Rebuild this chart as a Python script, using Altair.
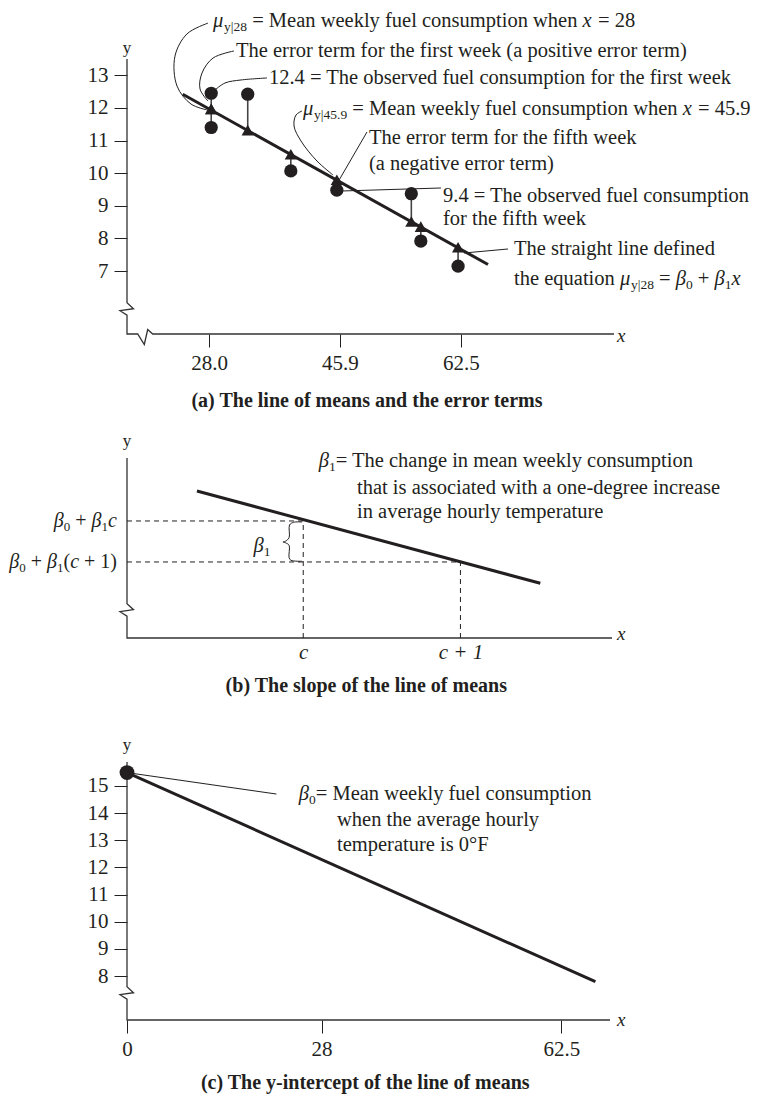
import altair as alt
import pandas as pd

FONT = "Liberation Serif"
INK = "#231f20"
AXC = "#333333"
BASE = 20.5
SUB = 13.5

# ---------------- Panel (a): line of means and error terms ----------------
a_x = [28.3, 28.3, 33.3, 39.2, 45.5, 55.7, 57.0, 62.1]
a_obs = [12.45, 11.40, 12.42, 10.07, 9.48, 9.37, 7.92, 7.15]
a_mean = [11.97, 11.97, 11.32, 10.58, 9.80, 8.52, 8.36, 7.73]
a_line_x = [24.4, 66.2]
a_line_y = [12.42, 7.20]
a_xticks = [28.0, 45.9, 62.5]
a_yticks = [7, 8, 9, 10, 11, 12, 13]
a_xdom = [16.77, 83.45]
a_ydom = [5.07, 13.5]
a_W, a_H = 487, 275

# leader lines (id -> x list, y list)
a_leaders = {
    "mu28": ([27.86, 24.99, 23.34, 23.62, 25.53, 27.72], [14.60, 14.27, 13.59, 12.67, 12.12, 11.94]),
    "err1": ([31.42, 28.55, 27.04, 26.77, 27.86], [13.746, 13.53, 13.07, 12.58, 12.21]),
    "obs1": ([35.94, 32.38, 30.19, 28.82], [12.918, 12.857, 12.765, 12.55]),
    "mu459": ([40.73, 39.91, 39.64, 40.59, 42.78, 44.98], [11.906, 11.784, 11.446, 10.987, 10.373, 9.944]),
    "err5": ([49.63, 45.5], [11.263, 9.668]),
    "obs5": ([46.21, 59.76], [9.454, 9.546]),
    "line": ([62.91, 68.94], [7.553, 7.676]),
}

# ---------------- Panel (b): slope ----------------
b_line_x = [0.324, 2.508]
b_line_y = [2.73, 0.48]
b_c = [1.0, 2.0]          # c, c + 1
b_level = [2.0, 1.0]      # b0 + b1 c, b0 + b1 (c + 1)
b_vtop = [2.03, 1.0]
b_brace_x = [0.992, 0.939, 0.913, 0.910, 0.886, 0.871, 0.886, 0.910, 0.910, 0.922, 0.992]
b_brace_y = [1.975, 1.968, 1.902, 1.592, 1.505, 1.487, 1.470, 1.407, 1.105, 1.041, 1.017]
b_xdom = [-0.121, 2.964]
b_ydom = [-0.854, 3.536]
b_W, b_H = 485, 180

# ---------------- Panel (c): intercept ----------------
c_line_x = [0.0, 67.4]
c_line_y = [15.49, 7.79]
c_icpt = [15.49]
c_xticks = [0, 28, 62.5]
c_yticks = [8, 9, 10, 11, 12, 13, 14, 15]
c_xdom = [0.0, 69.5]
c_ydom = [6.38, 15.88]
c_W, c_H = 483, 258

# ---------------- text helpers ----------------
WID = {' ': 250, '(': 333, ')': 333, '+': 564, '.': 250, '=': 564, '|': 200, '°': 400, '-': 333,
       'F': 556, 'M': 889, 'T': 611,
       'a': 444, 'b': 500, 'c': 444, 'd': 500, 'e': 444, 'f': 333, 'g': 500, 'h': 500, 'i': 278,
       'k': 500, 'l': 278, 'm': 778, 'n': 500, 'o': 500, 'p': 500, 'q': 500, 'r': 333, 's': 389,
       't': 278, 'u': 500, 'v': 500, 'w': 722, 'x': 500, 'y': 500, 'β': 500, 'μ': 540}


def tw(s, fs):
    return sum(WID.get(ch, 500) for ch in s) * fs / 1000.0


def segs(parts, x0, y0, ppx, align="left", size=BASE, sub=SUB):
    total = sum(tw(t, sub if st == "s" else size) for t, st in parts)
    start = x0 if align == "left" else x0 - total / ppx
    rows, cur = [], 0.0
    for t, st in parts:
        fs = sub if st == "s" else size
        body = t.strip(" ")
        if body:
            lead = tw(t[: len(t) - len(t.lstrip(" "))], fs)
            rows.append({"x": start + (cur + lead) / ppx, "y": y0, "t": body, "st": st, "fs": fs})
        cur += tw(t, fs)
    return rows


def enc(xdom, ydom, xaxis, yaxis):
    xs = alt.Scale(domain=xdom, nice=False, zero=False)
    ys = alt.Scale(domain=ydom, nice=False, zero=False)

    def X(f="x"):
        return alt.X(f, type="quantitative", scale=xs, axis=xaxis)

    def Y(f="y"):
        return alt.Y(f, type="quantitative", scale=ys, axis=yaxis)
    return X, Y


def path_df(pts):
    return pd.DataFrame({"x": [p[0] for p in pts], "y": [p[1] for p in pts], "i": list(range(len(pts)))})


def axis_path(xmin, xmax, ymin, ymax, ybreak, ppx, ppy, xbreak=None):
    pts = [(xmin, ymax), (xmin, ybreak),
           (xmin + 6.5 / ppx, ybreak - 6 / ppy),
           (xmin - 7 / ppx, ybreak - 8 / ppy),
           (xmin, ybreak - 12.5 / ppy),
           (xmin, ymin)]
    if xbreak is not None:
        pts += [(xbreak, ymin), (xbreak + 6.6 / ppx, ymin - 10.5 / ppy),
                (xbreak + 10 / ppx, ymin + 4.5 / ppy), (xbreak + 15 / ppx, ymin)]
    pts.append((xmax, ymin))
    return path_df(pts)


def text_layers(rows, X, Y):
    df = pd.DataFrame(rows)
    out = []
    for (st, fs), sub in df.groupby(["st", "fs"]):
        style = "italic" if st == "i" else "normal"
        dy = 6 if st == "s" else 0
        out.append(alt.Chart(sub.reset_index(drop=True)).mark_text(
            align="left", baseline="middle", font=FONT, fontSize=float(fs),
            fontStyle=style, color=INK, dy=dy).encode(x=X(), y=Y(), text="t:N"))
    return out


def line_layer(df, X, Y, width=1.0, color=INK, interp="linear"):
    enc_kw = dict(x=X(), y=Y(), order="i:Q")
    if "id" in df.columns:
        enc_kw["detail"] = "id:N"
    return alt.Chart(df).mark_line(color=color, strokeWidth=width, interpolate=interp).encode(**enc_kw)


def label_layer(x, y, text, X, Y, size, style="normal", weight="normal", align="left"):
    return alt.Chart(pd.DataFrame({"x": [x], "y": [y], "t": [text]})).mark_text(
        align=align, baseline="middle", font=FONT, fontSize=size, fontStyle=style,
        fontWeight=weight, color=INK).encode(x=X(), y=Y(), text="t:N")


# ================= Panel (a) =================
a_ppx = a_W / (a_xdom[1] - a_xdom[0])
a_ppy = a_H / (a_ydom[1] - a_ydom[0])
aX, aY = enc(a_xdom, a_ydom,
             alt.Axis(values=a_xticks, format=".1f", title=None, tickSize=13, labelPadding=5, labelFlush=False),
             alt.Axis(values=a_yticks, format="d", title=None, tickSize=13, labelPadding=6))

a_axis = axis_path(a_xdom[0], a_xdom[1], a_ydom[0], a_ydom[1], 6.03, a_ppx, a_ppy,
                   xbreak=a_xdom[0] + 10.7 / a_ppx)
lead_rows = []
for k, (xs, ys) in a_leaders.items():
    for i, (xv, yv) in enumerate(zip(xs, ys)):
        lead_rows.append({"id": k, "i": i, "x": xv, "y": yv})
a_lead_df = pd.DataFrame(lead_rows)
pts_df = pd.DataFrame({"x": a_x, "obs": a_obs, "mean": a_mean})

a_text = []
a_text += segs([("μ", "i"), ("y|28", "s"), (" = Mean weekly fuel consumption when ", "n"), ("x", "i"), (" = 28", "n")],
               28.55, 14.666, a_ppx)
a_text += segs([("The error term for the first week (a positive error term)", "n")], 31.69, 13.746, a_ppx)
a_text += segs([("12.4 = The observed fuel consumption for the first week", "n")], 36.21, 12.918, a_ppx)
a_text += segs([("μ", "i"), ("y|45.9", "s"), (" = Mean weekly fuel consumption when ", "n"), ("x", "i"), (" = 45.9", "n")],
               40.87, 11.968, a_ppx)
a_text += segs([("The error term for the fifth week", "n")], 49.90, 11.079, a_ppx)
a_text += segs([("(a negative error term)", "n")], 49.90, 10.281, a_ppx)
a_text += segs([("9.4 = The observed fuel consumption", "n")], 60.04, 9.301, a_ppx)
a_text += segs([("for the fifth week", "n")], 60.04, 8.595, a_ppx)
a_text += segs([("The straight line defined", "n")], 69.76, 7.676, a_ppx)
a_text += segs([("the equation ", "n"), ("μ", "i"), ("y|28", "s"), (" = ", "n"), ("β", "i"), ("0", "s"),
                (" + ", "n"), ("β", "i"), ("1", "s"), ("x", "i")], 69.76, 6.756, a_ppx)

panel_a = alt.layer(
    line_layer(a_axis, aX, aY, width=1.3, color=AXC),
    line_layer(a_lead_df, aX, aY, width=1.0, interp="catmull-rom"),
    alt.Chart(pts_df).mark_rule(color="#444444", strokeWidth=1.6).encode(x=aX(), y=aY("obs"), y2=alt.Y2("mean")),
    alt.Chart(pd.DataFrame({"x": a_line_x, "y": a_line_y, "i": [0, 1]})).mark_line(color=INK, strokeWidth=3)
    .encode(x=aX(), y=aY(), order="i:Q"),
    alt.Chart(pts_df).mark_point(shape="triangle-up", filled=True, size=150, color=INK, opacity=1)
    .encode(x=aX(), y=aY("mean")),
    alt.Chart(pts_df).mark_point(shape="circle", filled=True, size=175, color=INK, opacity=1)
    .encode(x=aX(), y=aY("obs")),
    *text_layers(a_text, aX, aY),
    label_layer(a_xdom[0], a_ydom[1] + 11.5 / a_ppy, "y", aX, aY, 17, align="center"),
    label_layer(a_xdom[1] + 3 / a_ppx, a_ydom[0] - 2 / a_ppy, "x", aX, aY, 19, style="italic"),
    label_layer(49.63, 3.015, "(a) The line of means and the error terms", aX, aY, 20, weight="bold", align="center"),
).properties(width=a_W, height=a_H)

# ================= Panel (b) =================
b_ppx = b_W / (b_xdom[1] - b_xdom[0])
b_ppy = b_H / (b_ydom[1] - b_ydom[0])
bX, bY = enc(b_xdom, b_ydom,
             alt.Axis(values=b_c, labelExpr="datum.value == 1 ? 'c' : 'c + 1'", title=None, ticks=False,
                      labelFontStyle="italic", labelPadding=3, labelFlush=False),
             None)
b_axis = axis_path(b_xdom[0], b_xdom[1], b_ydom[0], b_ydom[1], -0.017, b_ppx, b_ppy)
b_h = pd.DataFrame({"x": [b_xdom[0]] * 2, "x2": b_c, "y": b_level})
b_v = pd.DataFrame({"x": b_c, "y": [b_ydom[0]] * 2, "y2": b_vtop})
b_brace = path_df(list(zip(b_brace_x, b_brace_y)))

b_text = []
b_text += segs([("β", "i"), ("1", "s"), ("= The change in mean weekly consumption", "n")], 1.098, 3.463, b_ppx)
b_text += segs([("that is associated with a one-degree increase", "n")], 1.342, 2.812, b_ppx)
b_text += segs([("in average hourly temperature", "n")], 1.342, 2.219, b_ppx)
b_text += segs([("β", "i"), ("1", "s")], 0.684, 1.39, b_ppx)
b_text += segs([("β", "i"), ("0", "s"), (" + ", "n"), ("β", "i"), ("1", "s"), ("c", "i")],
               b_xdom[0] - 10 / b_ppx, b_level[0], b_ppx, align="right", size=20, sub=13)
b_text += segs([("β", "i"), ("0", "s"), (" + ", "n"), ("β", "i"), ("1", "s"), ("(", "n"), ("c", "i"), (" + 1)", "n")],
               b_xdom[0] - 10 / b_ppx, b_level[1], b_ppx, align="right", size=20, sub=13)

panel_b = alt.layer(
    line_layer(b_axis, bX, bY, width=1.3, color=AXC),
    alt.Chart(b_h).mark_rule(color=INK, strokeWidth=1, strokeDash=[5, 4]).encode(x=bX(), x2=alt.X2("x2"), y=bY()),
    alt.Chart(b_v).mark_rule(color=INK, strokeWidth=1, strokeDash=[5, 4]).encode(x=bX(), y=bY(), y2=alt.Y2("y2")),
    line_layer(b_brace, bX, bY, width=1.0, interp="catmull-rom"),
    alt.Chart(pd.DataFrame({"x": b_line_x, "y": b_line_y, "i": [0, 1]})).mark_line(color=INK, strokeWidth=3)
    .encode(x=bX(), y=bY(), order="i:Q"),
    *text_layers(b_text, bX, bY),
    label_layer(b_xdom[0], b_ydom[1] + 17 / b_ppy, "y", bX, bY, 17, align="center"),
    label_layer(b_xdom[1] + 5 / b_ppx, b_ydom[0] + 4 / b_ppy, "x", bX, bY, 19, style="italic"),
    label_layer(1.401, -2.02, "(b) The slope of the line of means", bX, bY, 20, weight="bold", align="center"),
).properties(width=b_W, height=b_H)

# ================= Panel (c) =================
c_ppx = c_W / (c_xdom[1] - c_xdom[0])
c_ppy = c_H / (c_ydom[1] - c_ydom[0])
cX, cY = enc(c_xdom, c_ydom,
             alt.Axis(values=c_xticks, labelExpr="'' + datum.value", title=None, tickSize=13,
                      labelPadding=5, labelFlush=False),
             alt.Axis(values=c_yticks, format="d", title=None, tickSize=13, labelPadding=6))
c_axis = axis_path(c_xdom[0], c_xdom[1], c_ydom[0], c_ydom[1], 7.606, c_ppx, c_ppy)
c_lead = path_df([(0.0, 15.49), (21.50, 14.70)])

c_text = []
c_text += segs([("β", "i"), ("0", "s"), ("= Mean weekly fuel consumption", "n")], 24.71, 14.70, c_ppx)
c_text += segs([("when the average hourly", "n")], 30.22, 13.744, c_ppx)
c_text += segs([("temperature is 0°F", "n")], 30.22, 12.824, c_ppx)

panel_c = alt.layer(
    line_layer(c_axis, cX, cY, width=1.3, color=AXC),
    line_layer(c_lead, cX, cY, width=1.0),
    alt.Chart(pd.DataFrame({"x": c_line_x, "y": c_line_y, "i": [0, 1]})).mark_line(color=INK, strokeWidth=3)
    .encode(x=cX(), y=cY(), order="i:Q"),
    alt.Chart(pd.DataFrame({"x": [0.0], "y": c_icpt})).mark_point(shape="circle", filled=True, size=220,
                                                                    color=INK, opacity=1)
    .encode(x=cX(), y=cY()),
    *text_layers(c_text, cX, cY),
    label_layer(c_xdom[0], c_ydom[1] + 17 / c_ppy, "y", cX, cY, 17, align="center"),
    label_layer(c_xdom[1] + 7 / c_ppx, c_ydom[0], "x", cX, cY, 19, style="italic"),
    label_layer(34.28, 4.06, "(c) The y-intercept of the line of means", cX, cY, 20, weight="bold", align="center"),
).properties(width=c_W, height=c_H)

chart = alt.vconcat(panel_a, panel_b, panel_c, spacing=124, bounds="flush").properties(
    padding={"left": 1, "top": 2, "right": 0, "bottom": 0}
).configure_view(stroke=None).configure_axis(
    grid=False, domain=False, labelFont=FONT, labelFontSize=21, labelColor=INK,
    tickColor=INK, tickWidth=1
)

chart.save("out.html", embed_options={"renderer": "svg", "actions": False})
